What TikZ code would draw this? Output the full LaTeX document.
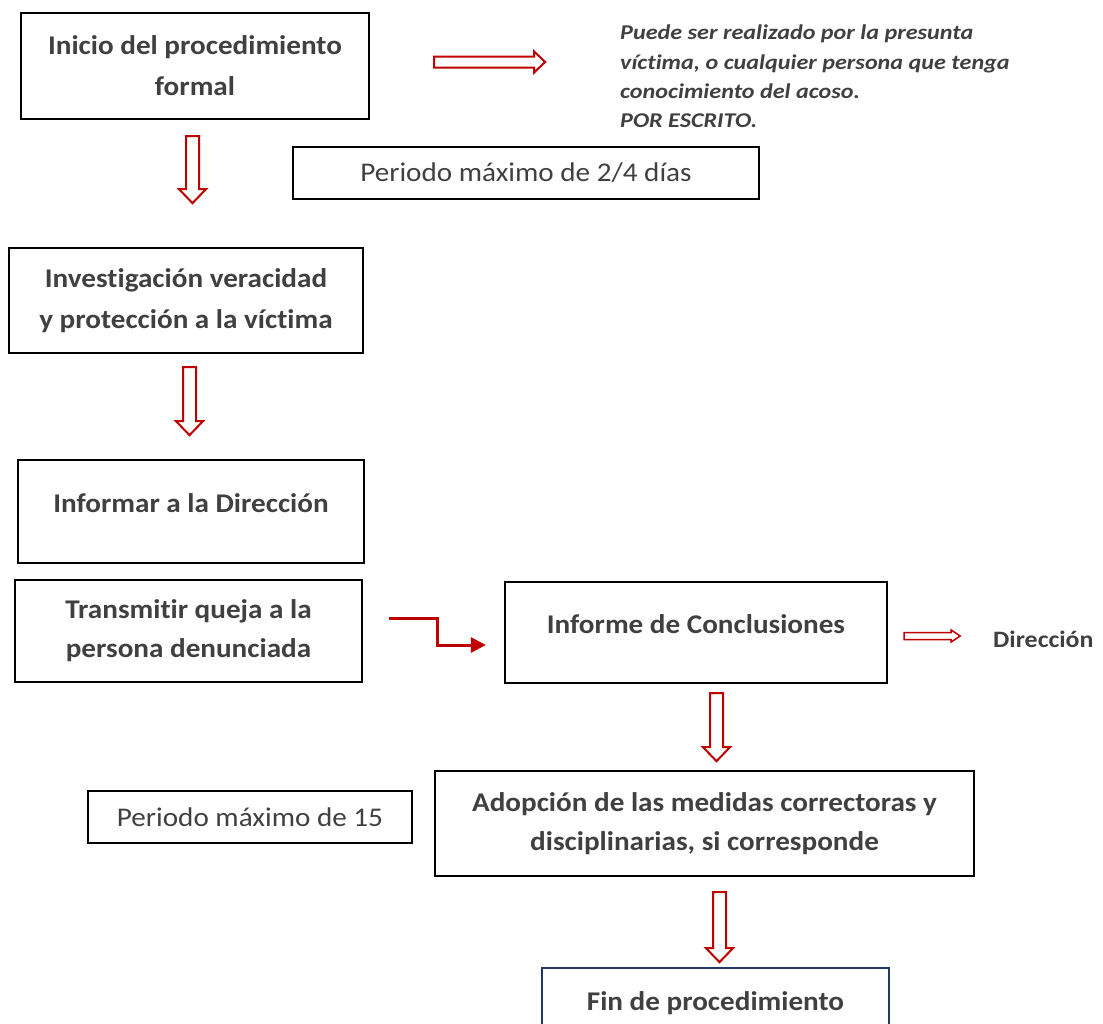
\documentclass[tikz,border=0pt]{standalone}
\usepackage{fontspec}
\setmainfont{Carlito}[FakeStretch=1.08, Ligatures=NoCommon]
\newfontfamily\itfam{Carlito}[FakeStretch=1.15, Ligatures=NoCommon]
\newfontfamily\dirfam{Carlito}[FakeStretch=1.1, Ligatures=NoCommon]
\usetikzlibrary{arrows.meta,calc}
\definecolor{dred}{HTML}{C00000}
\definecolor{txt}{HTML}{404040}
\definecolor{navy}{HTML}{1F3864}
\newcommand\boldfnt{\fontsize{27}{39}\selectfont\bfseries}
\newcommand\regfnt{\fontsize{27}{33}\selectfont}
\newcommand\itfnt{\itfam\fontsize{21}{29.3}\selectfont\bfseries\itshape}
\newcommand\dirfnt{\dirfam\fontsize{23.5}{28}\selectfont\bfseries}
\begin{document}
\begin{tikzpicture}[x=1pt,y=-1pt,
  box/.style={draw=black, line width=2.3pt, text=txt, align=center, inner sep=0pt, font=\boldfnt},
  plainbox/.style={box, font=\regfnt},
  hollow/.style={draw=dred, line width=2pt, fill=white, line join=miter},
  pics/darr/.style={code={
    \draw[hollow] (-6.5,0) -- (6.5,0) -- (6.5,#1-14) -- (13.5,#1-14) -- (0,#1)
      -- (-13.5,#1-14) -- (-6.5,#1-14) -- cycle;}},
  pics/rarr/.style n args={5}{code={
    \draw[hollow, line width=#5] (0,-#2) -- (#1-#4,-#2) -- (#1-#4,-#3) -- (#1,0)
      -- (#1-#4,#3) -- (#1-#4,#2) -- (0,#2) -- cycle;}},
  steparrow/.style={draw=dred, line width=3pt, -{Triangle[length=15pt,width=15pt]}}
]
\useasboundingbox (0,0) rectangle (1103,1023);

% boxes
\node[box, minimum width=348, minimum height=106] (inicio) at (195,66)
  {\raisebox{2pt}{Inicio del procedimiento}\\formal};
\node[plainbox, minimum width=466, minimum height=52] (per24) at (526,173)
  {Periodo máximo de 2/4 días};
\node[box, minimum width=354, minimum height=105] (invest) at (186,300.5)
  {\raisebox{4pt}{Investigación veracidad}\\\raisebox{2pt}{y protección a la víctima}};
\node[box, minimum width=346, minimum height=103] (informar) at (191,511.5)
  {\raisebox{16pt}{Informar a la Dirección}};
\node[box, minimum width=347, minimum height=102] (transmitir) at (188.5,631)
  {Transmitir queja a la\\persona denunciada};
\node[box, minimum width=382, minimum height=101] (informe) at (696,632.5)
  {\raisebox{17pt}{Informe de Conclusiones}};
\node[box, minimum width=539, minimum height=105] (adopcion) at (704.5,823.5)
  {Adopción de las medidas correctoras y\\disciplinarias, si corresponde};
\node[plainbox, minimum width=324, minimum height=52] (per15) at (250,817)
  {Periodo máximo de 15};
\node[box, draw=navy, line width=2pt, minimum width=347, minimum height=100] (fin) at (715.5,1018)
  {\raisebox{33pt}{Fin de procedimiento}};

% side texts
\node[anchor=north west, align=left, inner sep=0pt, text=txt, font=\itfnt] (nota) at (620,25)
  {Puede ser realizado por la presunta\\víctima, o cualquier persona que tenga\\conocimiento del acoso.\\POR ESCRITO.};
\node[anchor=base west, inner sep=0pt, text=txt, font=\dirfnt] (dir) at (993,647) {Dirección};

% block arrows
\pic at ($(inicio.east)+(64,-4)$) {rarr={111}{5.5}{10.5}{11}{2pt}};
\pic at ($(inicio.south)+(-2.5,16)$) {darr=67};
\pic at ($(invest.south)+(3.5,13)$) {darr=68};
\pic at ($(informe.south)+(20.5,9)$) {darr=68};
\pic at ($(adopcion.south)+(15,15)$) {darr=70};
\pic at ($(informe.east)+(16,3.5)$) {rarr={56}{3.5}{6}{9}{1.5pt}};

% step connector
\draw[steparrow] ($(transmitir.east)+(26,-13)$) -- ++(48,0) |- ($(informe.west)+(-18,12.5)$);
\end{tikzpicture}
\end{document}
